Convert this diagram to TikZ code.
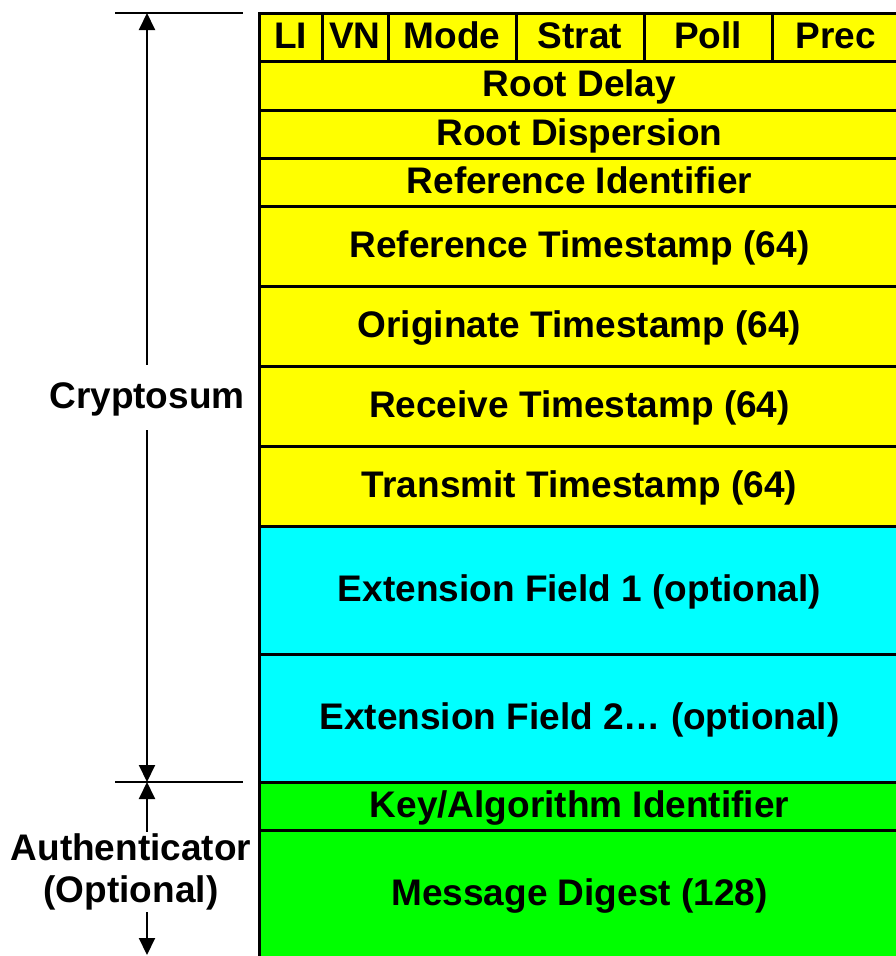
\documentclass[tikz,border=0pt]{standalone}
\usepackage{fontspec}
\setmainfont{Liberation Sans}
\usetikzlibrary{arrows.meta}
\definecolor{ntpyellow}{RGB}{255,255,0}
\definecolor{ntpcyan}{RGB}{0,255,255}
\definecolor{ntpgreen}{RGB}{0,255,0}
\tikzset{
  bigfont/.style={font=\bfseries\fontsize{37}{42}\selectfont},
  field/.style={draw, line width=3pt, inner sep=0pt, bigfont,
    text height=26.5pt, text depth=4.5pt},
  hdrfield/.style={field, fill=ntpyellow},
  extfield/.style={field, fill=ntpcyan},
  authfield/.style={field, fill=ntpgreen},
  dimline/.style={line width=2pt},
  dimarrow/.style={line width=2pt, -{Triangle[length=17pt,width=16pt]}}
}
\begin{document}
\begin{tikzpicture}[x=1pt, y=-1pt]
    \useasboundingbox (0, 0) rectangle (895, 956);
    % first word of the header
    \node (li) [hdrfield, minimum width=63, minimum height=48] at (290.5, 37) {LI};
    \node (vn) [hdrfield, minimum width=66, minimum height=48] at (355, 37) {VN};
    \node (mode) [hdrfield, minimum width=128, minimum height=48] at (452, 37) {Mode};
    \node (strat) [hdrfield, minimum width=128, minimum height=48] at (580, 37) {Strat};
    \node (poll) [hdrfield, minimum width=128, minimum height=48] at (708, 37) {Poll};
    \node (prec) [hdrfield, minimum width=128, minimum height=48] at (836, 37) {Prec};
    % rest of the header
    \node (rootdelay) [hdrfield, minimum width=641, minimum height=49] at (579.5, 85.5) {Root Delay};
    \node (rootdisp) [hdrfield, minimum width=641, minimum height=48] at (579.5, 134) {Root Dispersion};
    \node (refid) [hdrfield, minimum width=641, minimum height=48] at (579.5, 182) {Reference Identifier};
    \node (refts) [hdrfield, minimum width=641, minimum height=80] at (579.5, 246) {Reference Timestamp (64)};
    \node (orgts) [hdrfield, minimum width=641, minimum height=80] at (579.5, 326) {Originate Timestamp (64)};
    \node (rects) [hdrfield, minimum width=641, minimum height=80] at (579.5, 406) {Receive Timestamp (64)};
    \node (xmtts) [hdrfield, minimum width=641, minimum height=80] at (579.5, 486) {Transmit Timestamp (64)};
    % extension fields
    \node (ext1) [extfield, minimum width=641, minimum height=128] at (579.5, 590) {Extension Field 1 (optional)};
    \node (ext2) [extfield, minimum width=641, minimum height=128] at (579.5, 718) {Extension Field 2… (optional)};
    % authenticator
    \node (keyid) [authfield, minimum width=641, minimum height=48] at (579.5, 806) {Key/Algorithm Identifier};
    \node (digest) [authfield, minimum width=641, minimum height=128] at (579.5, 894) {Message Digest (128)};

    % dimension marks on the left
    \coordinate (topl) at (115, 13);
    \coordinate (topr) at (243, 13);
    \coordinate (midl) at (115, 782);
    \coordinate (midr) at (243, 782);
    \coordinate (top) at (147, 13);
    \coordinate (mid) at (147, 782);
    \coordinate (bot) at (147, 955);
    \draw [dimline] (topl) -- (topr);
    \draw [dimline] (midl) -- (midr);
    \node (crypto) [bigfont, inner sep=0pt, minimum height=65, text height=26.5pt, text depth=4.5pt] at (147, 397.5) {Cryptosum};
    \draw [dimarrow] (crypto) -- (top);
    \draw [dimarrow] (crypto) -- (mid);
    \node (auth) [bigfont, align=center, inner sep=0pt, minimum height=80] at (131, 872) {Authenticator\\(Optional)};
    \draw [dimarrow] (auth.north -| mid) -- (mid);
    \draw [dimarrow] (auth.south -| mid) -- (bot);
\end{tikzpicture}
\end{document}
